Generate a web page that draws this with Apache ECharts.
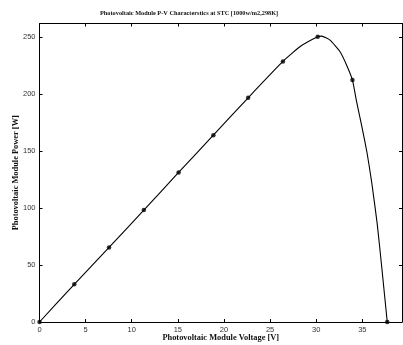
<!DOCTYPE html>
<html>
<head>
<meta charset="utf-8">
<script src="https://cdn.jsdelivr.net/npm/echarts@6/dist/echarts.min.js"></script>
<style>
  html, body { margin: 0; padding: 0; background: #fff; }
  #chart { width: 403px; height: 345px; }
</style>
</head>
<body>
<div id="chart"></div>
<script>
// Sampled operating points (module voltage in V, output power in W)
const sampleVoltage = [0, 3.77, 7.54, 11.31, 15.08, 18.85, 22.62, 26.39, 30.16, 33.93, 37.7];
const samplePower   = [0, 33.1, 65.5, 98.2, 131.3, 164.0, 196.8, 228.7, 250.4, 212.3, 0];

// Continuous P-V characteristic
const curveVoltage = [0, 3.77, 7.54, 11.31, 15.08, 18.85, 22.62, 26.39, 28.3, 30.16, 30.6, 31.5, 32.6, 33.3, 33.93, 34.4, 34.95, 35.5, 36.0, 36.6, 37.1, 37.7];
const curvePower   = [0, 33.1, 65.5, 98.2, 131.3, 164.0, 196.8, 228.7, 242.0, 250.4, 250.9, 247.4, 237.0, 225.4, 212.3, 192.5, 171.5, 149.0, 123.5, 87.0, 48.5, 0];

const xTicks = [0, 5, 10, 15, 20, 25, 30, 35];
const yTicks = [0, 50, 100, 150, 200, 250];

const chart = echarts.init(document.getElementById('chart'));

const serif = '"Liberation Serif", "Times New Roman", serif';
const sans = '"Liberation Sans", Arial, sans-serif';

const frameLine = { show: true, onZero: false, lineStyle: { color: '#000', width: 1 } };
const frameTick = { show: true, inside: true, length: 3, lineStyle: { color: '#000' } };

chart.setOption({
  animation: false,
  backgroundColor: '#fff',
  title: {
    text: 'Photovoltaic Module P-V Characterstics at STC [1000w/m2,298K]',
    left: 100,
    top: 10,
    padding: 0,
    textStyle: { fontFamily: serif, fontWeight: 'bold', fontSize: 6.3, color: '#111' }
  },
  grid: { left: 39.5, right: 1, top: 23.5, bottom: 23, containLabel: false, outerBoundsMode: 'none' },
  xAxis: [
    {
      type: 'value', position: 'bottom', min: 0, max: 39.3, interval: 5,
      axisLine: frameLine,
      axisTick: frameTick,
      axisLabel: {
        fontFamily: sans, fontSize: 7.5, color: '#333', margin: 4,
        showMaxLabel: false,
        formatter: v => (xTicks.indexOf(v) >= 0 ? String(v) : '')
      },
      splitLine: { show: false },
      name: 'Photovoltaic Module Voltage [V]',
      nameLocation: 'middle', nameGap: 12, nameMoveOverlap: false,
      nameTextStyle: { fontFamily: serif, fontWeight: 'bold', fontSize: 8.4, color: '#111' }
    },
    {
      type: 'value', position: 'top', min: 0, max: 39.3, interval: 5,
      axisLine: frameLine,
      axisTick: frameTick,
      axisLabel: { show: false },
      splitLine: { show: false }
    }
  ],
  yAxis: [
    {
      type: 'value', position: 'left', min: 0, max: 262, interval: 50,
      axisLine: frameLine,
      axisTick: frameTick,
      axisLabel: {
        fontFamily: sans, fontSize: 7.5, color: '#333', margin: 4,
        showMaxLabel: false,
        formatter: v => (yTicks.indexOf(v) >= 0 ? String(v) : '')
      },
      splitLine: { show: false },
      name: 'Photovoltaic Module Power [W]',
      nameLocation: 'middle', nameGap: 20, nameMoveOverlap: false,
      nameTextStyle: { fontFamily: serif, fontWeight: 'bold', fontSize: 8.4, color: '#111' }
    },
    {
      type: 'value', position: 'right', min: 0, max: 262, interval: 50,
      axisLine: frameLine,
      axisTick: frameTick,
      axisLabel: { show: false },
      splitLine: { show: false }
    }
  ],
  series: [
    {
      type: 'line',
      data: curveVoltage.map((v, i) => [v, curvePower[i]]),
      smooth: 0.15,
      showSymbol: false,
      lineStyle: { color: '#000', width: 1.1 },
      z: 3
    },
    {
      type: 'scatter',
      data: sampleVoltage.map((v, i) => [v, samplePower[i]]),
      symbol: 'circle',
      symbolSize: 4.5,
      itemStyle: { color: '#000' },
      z: 4
    }
  ]
});
</script>
</body>
</html>
